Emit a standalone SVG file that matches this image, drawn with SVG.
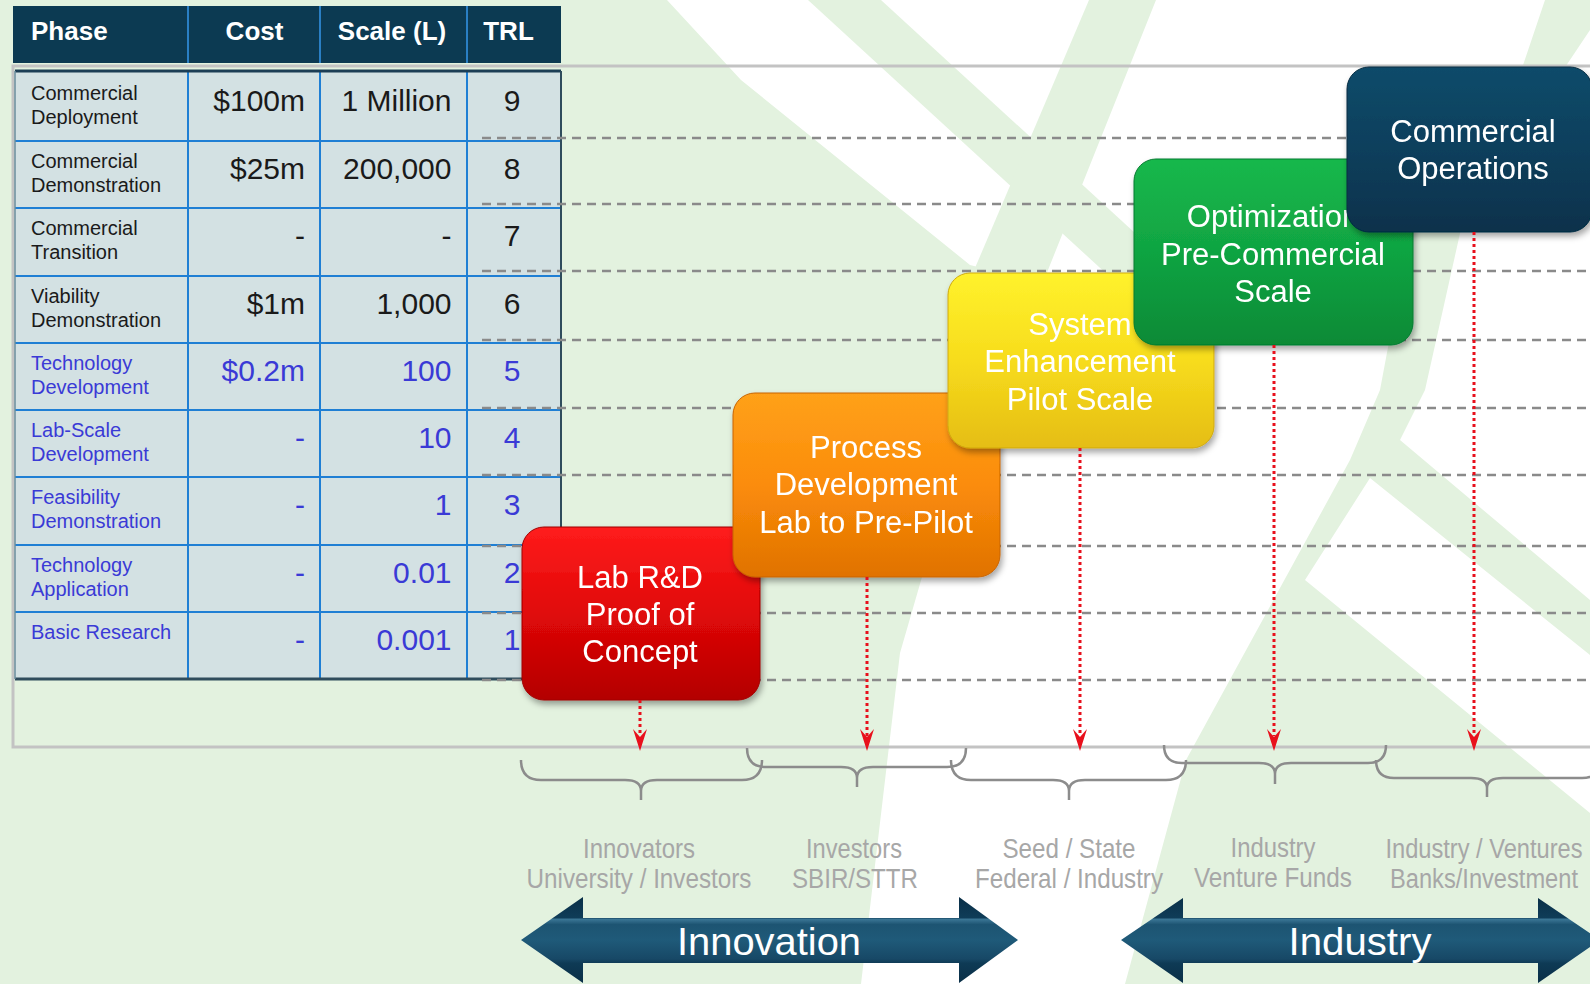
<svg xmlns="http://www.w3.org/2000/svg" width="1590" height="984" viewBox="0 0 1590 984">
<defs>
<style>
.t{font-family:"Liberation Sans",Arial,sans-serif}
.hdr{font-family:"Liberation Sans",Arial,sans-serif;font-weight:bold;font-size:26px;fill:#fff}
.ph{font-family:"Liberation Sans",Arial,sans-serif;font-size:20px;fill:#1a1a1a}
.v{font-family:"Liberation Sans",Arial,sans-serif;font-size:30px;fill:#1a1a1a}
.b{fill:#3a3ad6}
.end{text-anchor:end}
.mid{text-anchor:middle}
.bx{font-family:"Liberation Sans",Arial,sans-serif;font-size:31px;fill:#fff;text-anchor:middle}
.fund{font-family:"Liberation Sans",Arial,sans-serif;font-size:28px;fill:#a7a7a7;text-anchor:middle}
.big{font-family:"Liberation Sans",Arial,sans-serif;font-size:39px;fill:#fff;text-anchor:middle}
.bg{fill:#e3f2df}
.rowl{stroke:#1f7fd4;stroke-width:2;fill:none}
.dash{stroke:#8a8a8a;stroke-width:2.5;stroke-dasharray:9 6;fill:none}
.dot{stroke:#e8101c;stroke-width:3;stroke-dasharray:3 3;fill:none}
.head{fill:#e8101c}
.brace{stroke:#8c8c8c;stroke-width:2.5;fill:none}
</style>
<linearGradient id="gRed" x1="0" y1="0" x2="0" y2="1"><stop offset="0" stop-color="#ff1c1c"/><stop offset="0.5" stop-color="#e00808"/><stop offset="1" stop-color="#b30000"/></linearGradient>
<linearGradient id="gOrg" x1="0" y1="0" x2="0" y2="1"><stop offset="0" stop-color="#ffa11a"/><stop offset="0.5" stop-color="#fb8c0a"/><stop offset="1" stop-color="#e07200"/></linearGradient>
<linearGradient id="gYel" x1="0" y1="0" x2="0" y2="1"><stop offset="0" stop-color="#fff22c"/><stop offset="0.5" stop-color="#f7dc1c"/><stop offset="1" stop-color="#e5bd14"/></linearGradient>
<linearGradient id="gGrn" x1="0" y1="0" x2="0" y2="1"><stop offset="0" stop-color="#19b84c"/><stop offset="0.5" stop-color="#10a442"/><stop offset="1" stop-color="#078a36"/></linearGradient>
<linearGradient id="gNav" x1="0" y1="0" x2="0" y2="1"><stop offset="0" stop-color="#0f4b6a"/><stop offset="0.5" stop-color="#0b3f5c"/><stop offset="1" stop-color="#07314b"/></linearGradient>
<linearGradient id="gArr" gradientUnits="userSpaceOnUse" x1="0" y1="897" x2="0" y2="983"><stop offset="0" stop-color="#0a2f47"/><stop offset="0.24" stop-color="#0f3c58"/><stop offset="0.26" stop-color="#3a7594"/><stop offset="0.32" stop-color="#1d5472"/><stop offset="0.5" stop-color="#1f5a79"/><stop offset="0.72" stop-color="#174866"/><stop offset="0.77" stop-color="#0e3a55"/><stop offset="1" stop-color="#0a2f47"/></linearGradient>
<filter id="sh" x="-10%" y="-10%" width="120%" height="130%"><feDropShadow dx="2" dy="4" stdDeviation="3" flood-color="#000" flood-opacity="0.35"/></filter>
</defs>

<rect width="1590" height="984" fill="#fff"/>
<g id="background">
<polygon class="bg" points="0,0 667,0 741,80 970,265 1010,275 959,450 922,577 900,653 861,984 0,984"/>
<polygon class="bg" points="808,0 881,0 1208,300 1135,300"/>
<polygon class="bg" points="1089,0 1156,0 1040,290 975,268"/>
<polygon class="bg" points="1545,0 1610,0 1463,220 1425,390 1400,440 1590,600 1590,655 1370,478 1305,580 1590,813 1590,984 1125,984 1186,760 1350,460 1380,390 1410,230 1518,80"/>
</g>

<path id="frame" d="M1590,66 L13,66 L13,747 L1590,747" fill="none" stroke="#c3c3c3" stroke-width="3"/>

<g id="table">
<rect x="13" y="6" width="548" height="57" fill="#0c3a52"/>
<path d="M188,6 V63 M320,6 V63 M467,6 V63" stroke="#2a7fc4" stroke-width="2"/>
<text class="hdr" x="31" y="40">Phase</text>
<text class="hdr mid" x="254.5" y="40">Cost</text>
<text class="hdr mid" x="392" y="40">Scale (L)</text>
<text class="hdr mid" x="508.5" y="40">TRL</text>
<rect x="15" y="71" width="546" height="608" fill="#d3e1e3"/>
<path class="rowl" d="M15,141 H561 M15,208 H561 M15,276 H561 M15,343 H561 M15,410 H561 M15,477 H561 M15,545 H561 M15,612 H561 M188,71 V679 M320,71 V679 M467,71 V679"/>
<path d="M15,71 H561" stroke="#1c3e55" stroke-width="3"/>
<path d="M15,679 H561" stroke="#2f4c5c" stroke-width="3"/>
<path d="M561,71 V679" stroke="#2f4c5c" stroke-width="2"/>
<path d="M15,71 V679" stroke="#6a8c9c" stroke-width="1.5"/>

<text class="ph" x="31" y="100">Commercial</text><text class="ph" x="31" y="124">Deployment</text>
<text class="v end" x="305" y="111">$100m</text><text class="v end" x="451.5" y="111">1 Million</text><text class="v mid" x="512" y="111">9</text>

<text class="ph" x="31" y="168">Commercial</text><text class="ph" x="31" y="192">Demonstration</text>
<text class="v end" x="305" y="179">$25m</text><text class="v end" x="451.5" y="179">200,000</text><text class="v mid" x="512" y="179">8</text>

<text class="ph" x="31" y="235">Commercial</text><text class="ph" x="31" y="259">Transition</text>
<text class="v end" x="305" y="246">-</text><text class="v end" x="451.5" y="246">-</text><text class="v mid" x="512" y="246">7</text>

<text class="ph" x="31" y="303">Viability</text><text class="ph" x="31" y="327">Demonstration</text>
<text class="v end" x="305" y="314">$1m</text><text class="v end" x="451.5" y="314">1,000</text><text class="v mid" x="512" y="314">6</text>

<text class="ph b" x="31" y="370">Technology</text><text class="ph b" x="31" y="394">Development</text>
<text class="v b end" x="305" y="381">$0.2m</text><text class="v b end" x="451.5" y="381">100</text><text class="v b mid" x="512" y="381">5</text>

<text class="ph b" x="31" y="437">Lab-Scale</text><text class="ph b" x="31" y="461">Development</text>
<text class="v b end" x="305" y="448">-</text><text class="v b end" x="451.5" y="448">10</text><text class="v b mid" x="512" y="448">4</text>

<text class="ph b" x="31" y="504">Feasibility</text><text class="ph b" x="31" y="528">Demonstration</text>
<text class="v b end" x="305" y="515">-</text><text class="v b end" x="451.5" y="515">1</text><text class="v b mid" x="512" y="515">3</text>

<text class="ph b" x="31" y="572">Technology</text><text class="ph b" x="31" y="596">Application</text>
<text class="v b end" x="305" y="583">-</text><text class="v b end" x="451.5" y="583">0.01</text><text class="v b mid" x="512" y="583">2</text>

<text class="ph b" x="31" y="639">Basic Research</text>
<text class="v b end" x="305" y="650">-</text><text class="v b end" x="451.5" y="650">0.001</text><text class="v b mid" x="512" y="650">1</text>
</g>

<g id="grid">
<path class="dash" d="M482,138 H1590 M482,204 H1590 M482,271 H1590 M482,340 H1590 M482,408 H1590 M482,475 H1590 M482,546 H1590 M482,613 H1590 M482,680 H1590"/>
</g>

<g id="box-lab" filter="url(#sh)">
<rect x="522" y="527" width="238" height="173" rx="22" fill="url(#gRed)" stroke="#a00000" stroke-width="1"/>
<text class="bx" x="640" y="588">Lab R&amp;D</text>
<text class="bx" x="640" y="625">Proof of</text>
<text class="bx" x="640" y="662">Concept</text>
</g>
<g id="box-process" filter="url(#sh)">
<rect x="733" y="393" width="267" height="184" rx="22" fill="url(#gOrg)" stroke="#c86400" stroke-width="1"/>
<text class="bx" x="866" y="458">Process</text>
<text class="bx" x="866" y="495">Development</text>
<text class="bx" x="866" y="533">Lab to Pre-Pilot</text>
</g>
<g id="box-system" filter="url(#sh)">
<rect x="948" y="273" width="266" height="175" rx="22" fill="url(#gYel)" stroke="#cfa90e" stroke-width="1"/>
<text class="bx" x="1080" y="335">System</text>
<text class="bx" x="1080" y="372">Enhancement</text>
<text class="bx" x="1080" y="410">Pilot Scale</text>
</g>
<g id="box-optimization" filter="url(#sh)">
<rect x="1134" y="159" width="279" height="186" rx="22" fill="url(#gGrn)" stroke="#067a30" stroke-width="1"/>
<text class="bx" x="1273" y="227">Optimization</text>
<text class="bx" x="1273" y="265">Pre-Commercial</text>
<text class="bx" x="1273" y="302">Scale</text>
</g>
<g id="box-commercial" filter="url(#sh)">
<rect x="1347" y="67" width="245" height="165" rx="22" fill="url(#gNav)" stroke="#062a40" stroke-width="1"/>
<text class="bx" x="1473" y="142">Commercial</text>
<text class="bx" x="1473" y="179">Operations</text>
</g>

<g id="connectors">
<path class="dot" d="M640,700 V736 M867,577 V736 M1080,448 V736 M1274,345 V736 M1474,232 V736"/>
<path class="head" d="M633,729 L640,751 L647,729 L640,737 Z M860,729 L867,751 L874,729 L867,737 Z M1073,729 L1080,751 L1087,729 L1080,737 Z M1267,729 L1274,751 L1281,729 L1274,737 Z M1467,729 L1474,751 L1481,729 L1474,737 Z"/>
</g>

<g id="braces">
<path class="brace" d="M521,760 Q521,780 541,780 L625,780 Q641,780 641,791 L641,800 M641,791 Q641,780 657,780 L742,780 Q762,780 762,760"/>
<path class="brace" d="M747,748 Q747,767 766,767 L841,767 Q857,767 857,778 L857,787 M857,778 Q857,767 873,767 L947,767 Q966,767 966,748"/>
<path class="brace" d="M951,760 Q951,780 971,780 L1053,780 Q1069,780 1069,791 L1069,800 M1069,791 Q1069,780 1085,780 L1166,780 Q1186,780 1186,760"/>
<path class="brace" d="M1164,745 Q1164,763 1182,763 L1259,763 Q1275,763 1275,774 L1275,784 M1275,774 Q1275,763 1291,763 L1368,763 Q1386,763 1386,745"/>
<path class="brace" d="M1376,760 Q1376,778 1394,778 L1471,778 Q1487,778 1487,788 L1487,797 M1487,788 Q1487,778 1503,778 L1582,778 Q1600,778 1600,760"/>
</g>

<g id="funding">
<text class="fund" x="639" y="858" textLength="112" lengthAdjust="spacingAndGlyphs">Innovators</text>
<text class="fund" x="639" y="888" textLength="225" lengthAdjust="spacingAndGlyphs">University / Investors</text>
<text class="fund" x="854" y="858" textLength="96" lengthAdjust="spacingAndGlyphs">Investors</text>
<text class="fund" x="855" y="888" textLength="126" lengthAdjust="spacingAndGlyphs">SBIR/STTR</text>
<text class="fund" x="1069" y="858" textLength="133" lengthAdjust="spacingAndGlyphs">Seed / State</text>
<text class="fund" x="1069" y="888" textLength="188" lengthAdjust="spacingAndGlyphs">Federal / Industry</text>
<text class="fund" x="1273" y="857" textLength="85" lengthAdjust="spacingAndGlyphs">Industry</text>
<text class="fund" x="1273" y="887" textLength="158" lengthAdjust="spacingAndGlyphs">Venture Funds</text>
<text class="fund" transform="translate(1484,858) scale(0.845,1)" x="0" y="0">Industry / Ventures</text>
<text class="fund" transform="translate(1484,888) scale(0.845,1)" x="0" y="0">Banks/Investment</text>
</g>

<g id="arrow-innovation">
<path d="M521,940 L583,897 L583,918 L959,918 L959,897 L1018,940 L959,983 L959,963 L583,963 L583,983 Z" fill="url(#gArr)"/>
<text class="big" x="769" y="955" textLength="184" lengthAdjust="spacingAndGlyphs">Innovation</text>
</g>
<g id="arrow-industry">
<path d="M1121,940 L1183,898 L1183,918 L1538,918 L1538,898 L1600,940 L1538,983 L1538,963 L1183,963 L1183,983 Z" fill="url(#gArr)"/>
<text class="big" x="1360" y="955" textLength="143" lengthAdjust="spacingAndGlyphs">Industry</text>
</g>
</svg>
